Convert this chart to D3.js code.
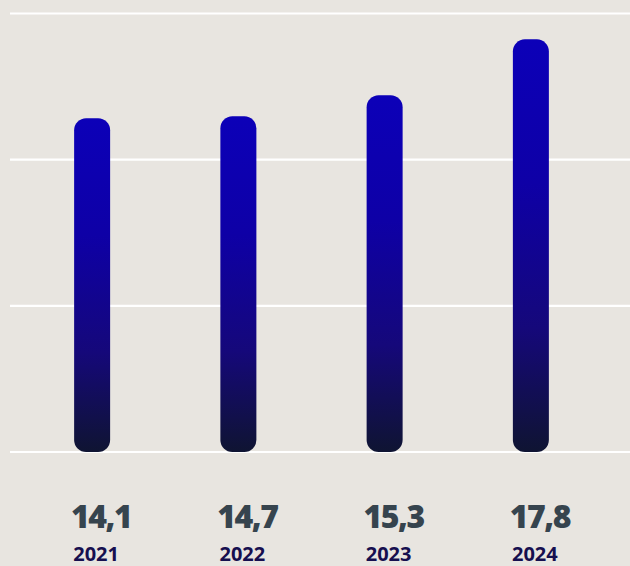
<!DOCTYPE html>
<html><head><meta charset="utf-8">
<script src="https://cdn.jsdelivr.net/npm/d3@7/dist/d3.min.js"></script>
<style>html,body{margin:0;padding:0;background:#e8e5e0;}svg{display:block;}</style>
</head><body>
<svg id="c" width="630" height="566"></svg>
<script>
const years = ["2021", "2022", "2023", "2024"];
const valueLabels = ["14,1", "14,7", "15,3", "17,8"];
const barHeights = [2.283, 2.297, 2.44, 2.823];
const gridTicks = [0, 1, 2, 3];

const svg = d3.select("#c");
const W = 630, H = 566;
svg.append("rect").attr("width", W).attr("height", H).attr("fill", "#e8e5e0");

const y = d3.scaleLinear().domain([0, 3]).range([452, 13.5]);
const x = d3.scaleBand().domain(years).range([19, 604]).padding(0);
const bw = 36;

const defs = svg.append("defs");
const g = defs.append("linearGradient").attr("id", "bg").attr("x1", 0).attr("y1", 0).attr("x2", 0).attr("y2", 1);
g.append("stop").attr("offset", "0%").attr("stop-color", "#0c00b8");
g.append("stop").attr("offset", "35%").attr("stop-color", "#0e00a6");
g.append("stop").attr("offset", "70%").attr("stop-color", "#15087a");
g.append("stop").attr("offset", "100%").attr("stop-color", "#0f1432");

svg.append("g").selectAll("line").data(gridTicks).join("line")
  .attr("x1", 10).attr("x2", W)
  .attr("y1", d => y(d)).attr("y2", d => y(d))
  .attr("stroke", "#ffffff").attr("stroke-width", 2.2);

svg.append("g").selectAll("rect").data(years).join("rect")
  .attr("x", d => x(d) + x.bandwidth() / 2 - bw / 2)
  .attr("width", bw)
  .attr("y", (d, i) => y(barHeights[i]))
  .attr("height", (d, i) => y(0) - y(barHeights[i]))
  .attr("rx", 12).attr("ry", 12)
  .attr("fill", "url(#bg)");

svg.append("g").selectAll("text").data(valueLabels).join("text")
  .attr("x", (d, i) => x(years[i]) + x.bandwidth() / 2 + 9)
  .attr("y", 528)
  .attr("text-anchor", "middle")
  .attr("font-family", "'Open Sans', sans-serif")
  .attr("font-weight", 800)
  .attr("font-size", 32)
  .attr("letter-spacing", -1.5)
  .attr("fill", "#36444e")
  .text(d => d);

svg.append("g").selectAll("text").data(years).join("text")
  .attr("x", d => x(d) + x.bandwidth() / 2 + 4)
  .attr("y", 561)
  .attr("text-anchor", "middle")
  .attr("font-family", "'Open Sans', sans-serif")
  .attr("font-weight", 700)
  .attr("font-size", 20)
  .attr("fill", "#160f4f")
  .text(d => d);
</script>
</body></html>
